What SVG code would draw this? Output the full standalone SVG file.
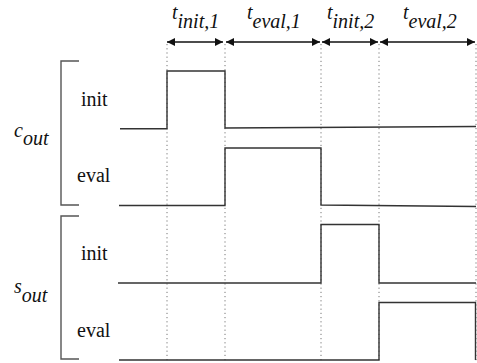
<svg xmlns="http://www.w3.org/2000/svg" width="477" height="363" viewBox="0 0 477 363">
<style>
.w{fill:none;stroke:#333;stroke-width:1.4}
.b{fill:none;stroke:#555;stroke-width:1.4}
.d{stroke:#777;stroke-width:1;stroke-dasharray:1.2 3}
.a{stroke:#111;stroke-width:1.3;marker-start:url(#ah);marker-end:url(#ah)}
</style>
<defs>
<marker id="ah" viewBox="0 0 10 10" refX="10" refY="5" markerWidth="10" markerHeight="8" markerUnits="userSpaceOnUse" orient="auto-start-reverse">
<path d="M0,0 L10,5 L0,10 z" fill="#111"/>
</marker>
</defs>
<g id="grid">
<line class="d" x1="167" y1="44" x2="167" y2="362"/>
<line class="d" x1="225" y1="44" x2="225" y2="362"/>
<line class="d" x1="321" y1="44" x2="321" y2="362"/>
<line class="d" x1="379" y1="44" x2="379" y2="362"/>
<line class="d" x1="476" y1="44" x2="476" y2="362"/>
</g>
<g id="connectors">
<line class="a" x1="167" y1="42" x2="223" y2="42"/>
<line class="a" x1="226" y1="42" x2="320" y2="42"/>
<line class="a" x1="322" y1="42" x2="378" y2="42"/>
<line class="a" x1="380" y1="42" x2="475" y2="42"/>
</g>
<g id="labels" font-family="Liberation Serif" font-size="20" font-style="italic" fill="#111">
<text x="172" y="19">t<tspan dy="9">init,1</tspan></text>
<text x="247" y="19">t<tspan dy="9">eval,1</tspan></text>
<text x="327" y="19">t<tspan dy="9">init,2</tspan></text>
<text x="403" y="19">t<tspan dy="9">eval,2</tspan></text>
</g>
<g id="cout" font-family="Liberation Serif" font-size="20" fill="#111">
<path class="b" d="M79,61 H61 V205 H79"/>
<text x="14" y="137" font-style="italic">c<tspan dy="8">out</tspan></text>
<text x="81" y="106">init</text>
<text x="77" y="182">eval</text>
<path class="w" d="M120,128.7 H167 V71 H225 V128 L476,126.5"/>
<path class="w" d="M119,205.5 H225 V148 H321 V205 L476,206.5"/>
</g>
<g id="sout" font-family="Liberation Serif" font-size="20" fill="#111">
<path class="b" d="M79,216 H61 V359 H79"/>
<text x="14" y="293" font-style="italic">s<tspan dy="9">out</tspan></text>
<text x="81" y="260">init</text>
<text x="77" y="337">eval</text>
<path class="w" d="M118,283 H321 V224.5 H379 V283 H476"/>
<path class="w" d="M119,360 H379 V302.5 H475.5 V360"/>
</g>
</svg>
